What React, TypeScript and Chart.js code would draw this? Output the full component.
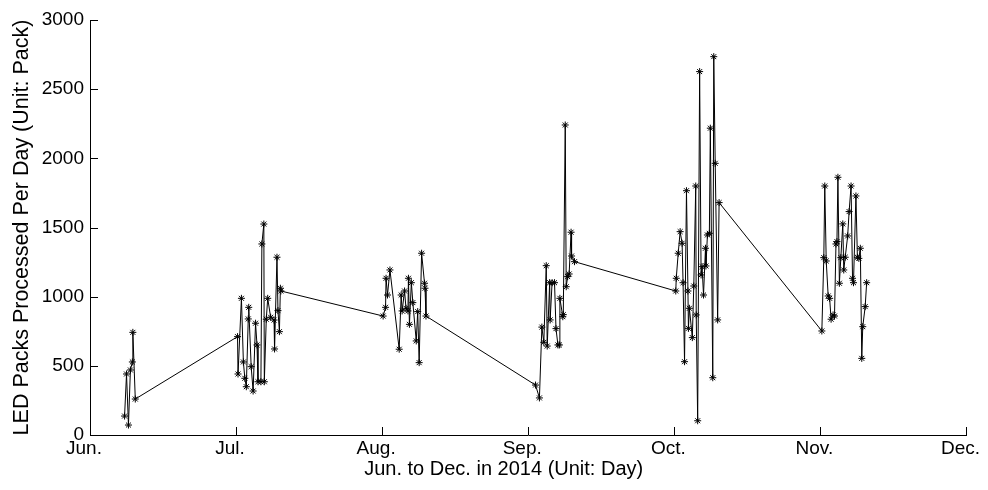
import React, { useEffect, useRef } from "react";
import { Chart, registerables } from "chart.js";

Chart.register(...registerables);

// x = days since Jun. 1 (30-day month spacing on the axis), y = LED packs per day
const junDays = [7.1, 7.5, 7.9, 8.3, 8.7, 8.8, 9.3];
const junValues = [137, 441, 72, 470, 528, 742, 260];

const julDays = [30.3, 30.4, 31.1, 31.5, 31.8, 32.1, 32.5, 32.6, 33.1, 33.5, 34.0, 34.3, 34.5, 35.1, 35.3, 35.7, 35.8, 36.2, 36.5, 37.1, 37.8, 37.9, 38.4, 38.6, 38.9, 39.1, 39.2];
const julValues = [711, 441, 988, 528, 410, 349, 839, 923, 494, 318, 808, 651, 385, 385, 1381, 1525, 385, 837, 988, 851, 831, 622, 1285, 899, 747, 1061, 1041];

const augDays = [60.2, 60.7, 60.8, 61.1, 61.6, 63.5, 63.9, 64.1, 64.6, 64.9, 65.3, 65.4, 65.6, 66.0, 66.3, 67.0, 67.3, 67.6, 68.1, 68.7, 68.8, 69.0];
const augValues = [860, 923, 1133, 1012, 1193, 620, 1012, 897, 1041, 916, 897, 1133, 800, 1101, 957, 680, 892, 523, 1314, 1097, 1061, 860];

const sepDays = [91.5, 92.3, 92.8, 93.2, 93.7, 93.9, 94.4, 94.5, 94.9, 95.4, 95.7, 96.1, 96.4, 96.5, 97.1, 97.2, 97.6, 97.8, 98.1, 98.4, 98.8, 98.9, 99.5];
const sepValues = [361, 268, 780, 670, 1224, 643, 1101, 832, 1101, 1101, 769, 651, 651, 988, 855, 870, 2241, 1072, 1145, 1164, 1466, 1294, 1253];

const octDays = [120.3, 120.4, 120.8, 121.2, 121.6, 121.8, 122.1, 122.5, 122.8, 122.9, 123.1, 123.7, 124.0, 124.4, 124.5, 124.8, 125.2, 125.5, 125.7, 126.0, 126.4, 126.5, 126.8, 127.2, 127.4, 127.9, 128.1, 128.4, 128.9, 129.2];
const octValues = [1041, 1133, 1314, 1470, 1386, 1101, 530, 1766, 1041, 771, 916, 704, 1077, 1800, 868, 103, 2627, 1157, 1217, 1012, 1350, 1222, 1446, 1458, 2218, 414, 2735, 1964, 832, 1680];

const novDays = [150.3, 150.7, 150.9, 151.2, 151.6, 151.9, 152.2, 152.6, 152.9, 153.2, 153.4, 153.6, 153.9, 154.2, 154.6, 154.8, 155.1, 155.6, 155.9, 156.3, 156.6, 156.8, 157.3, 157.6, 157.9, 158.2, 158.5, 158.7, 159.2, 159.5];
const novValues = [752, 1282, 1800, 1258, 1005, 988, 837, 868, 860, 1381, 1398, 1863, 1097, 1282, 1526, 1193, 1285, 1439, 1615, 1800, 1133, 1101, 1728, 1285, 1277, 1350, 554, 783, 928, 1101];

const monthLabels = ["Jun.", "Jul.", "Aug.", "Sep.", "Oct.", "Nov.", "Dec."];
const xTitle = "Jun. to Dec. in 2014 (Unit: Day)";
const yTitle = "LED Packs Processed Per Day (Unit: Pack)";

const allDays = [...junDays, ...julDays, ...augDays, ...sepDays, ...octDays, ...novDays];
const allValues = [...junValues, ...julValues, ...augValues, ...sepValues, ...octValues, ...novValues];

const FONT = "'Liberation Sans', Arial, sans-serif";

const inwardTicksAndTitle = {
  id: "inwardTicksAndTitle",
  afterDraw(chart: any) {
    const ctx = chart.ctx;
    const xs = chart.scales.x;
    const ys = chart.scales.y;
    const area = chart.chartArea;
    ctx.save();
    ctx.strokeStyle = "#000";
    ctx.lineWidth = 1;
    ctx.beginPath();
    xs.ticks.forEach((t: any) => {
      const px = Math.round(xs.getPixelForValue(t.value)) + 0.5;
      ctx.moveTo(px, area.bottom);
      ctx.lineTo(px, area.bottom - 8);
    });
    ys.ticks.forEach((t: any) => {
      const py = Math.round(ys.getPixelForValue(t.value)) + 0.5;
      ctx.moveTo(area.left, py);
      ctx.lineTo(area.left + 8, py);
    });
    ctx.stroke();
    // x-axis title, placed slightly left of the axis centre as in the source figure
    ctx.fillStyle = "#000";
    ctx.font = `20px ${FONT}`;
    ctx.textAlign = "center";
    ctx.textBaseline = "middle";
    ctx.fillText(xTitle, area.left + (area.right - area.left) * 0.472, 469);
    ctx.restore();
  },
};

export default function App() {
  const ref = useRef<HTMLCanvasElement | null>(null);

  useEffect(() => {
    if (!ref.current) return;
    const data = allDays.map((d, i) => ({ x: d, y: allValues[i] }));
    const chart = new Chart(ref.current, {
      type: "line",
      data: {
        datasets: [
          {
            data,
            borderColor: "#000",
            backgroundColor: "#000",
            borderWidth: 1,
            pointStyle: "star",
            pointRadius: 3.5,
            pointBorderWidth: 1,
            pointBorderColor: "#000",
            tension: 0,
            fill: false,
          },
        ],
      },
      options: {
        animation: false,
        responsive: false,
        devicePixelRatio: 1,
        layout: { padding: { left: 0, right: 11, top: 20, bottom: 0 } },
        plugins: { legend: { display: false }, tooltip: { enabled: false } },
        scales: {
          x: {
            type: "linear",
            min: 0,
            max: 180,
            grid: { display: false, drawTicks: false },
            border: { display: true, color: "#000", width: 1 },
            ticks: {
              stepSize: 30,
              color: "#000",
              font: { family: FONT, size: 19 },
              padding: 2,
              labelOffset: -6,
              maxRotation: 0,
              autoSkip: false,
              callback: (v: any) => monthLabels[Math.round(Number(v) / 30)] ?? "",
            },
            title: { display: false },
            afterFit: (s: any) => {
              s.height = 55;
            },
          },
          y: {
            type: "linear",
            min: 0,
            max: 3000,
            grid: { display: false, drawTicks: false },
            border: { display: true, color: "#000", width: 1 },
            ticks: {
              stepSize: 500,
              color: "#000",
              font: { family: FONT, size: 19 },
              padding: 6,
              callback: (v: any) => String(v),
            },
            title: {
              display: true,
              text: yTitle,
              color: "#000",
              font: { family: FONT, size: 21.5 },
              padding: { top: 9, bottom: 0 },
            },
            afterFit: (s: any) => {
              s.width = 90;
            },
          },
        },
      },
      plugins: [inwardTicksAndTitle],
    });
    return () => chart.destroy();
  }, []);

  return (
    <div style={{ position: "fixed", left: 0, top: 0, width: 988, height: 490, background: "#fff" }}>
      <canvas ref={ref} width={988} height={490} />
    </div>
  );
}
